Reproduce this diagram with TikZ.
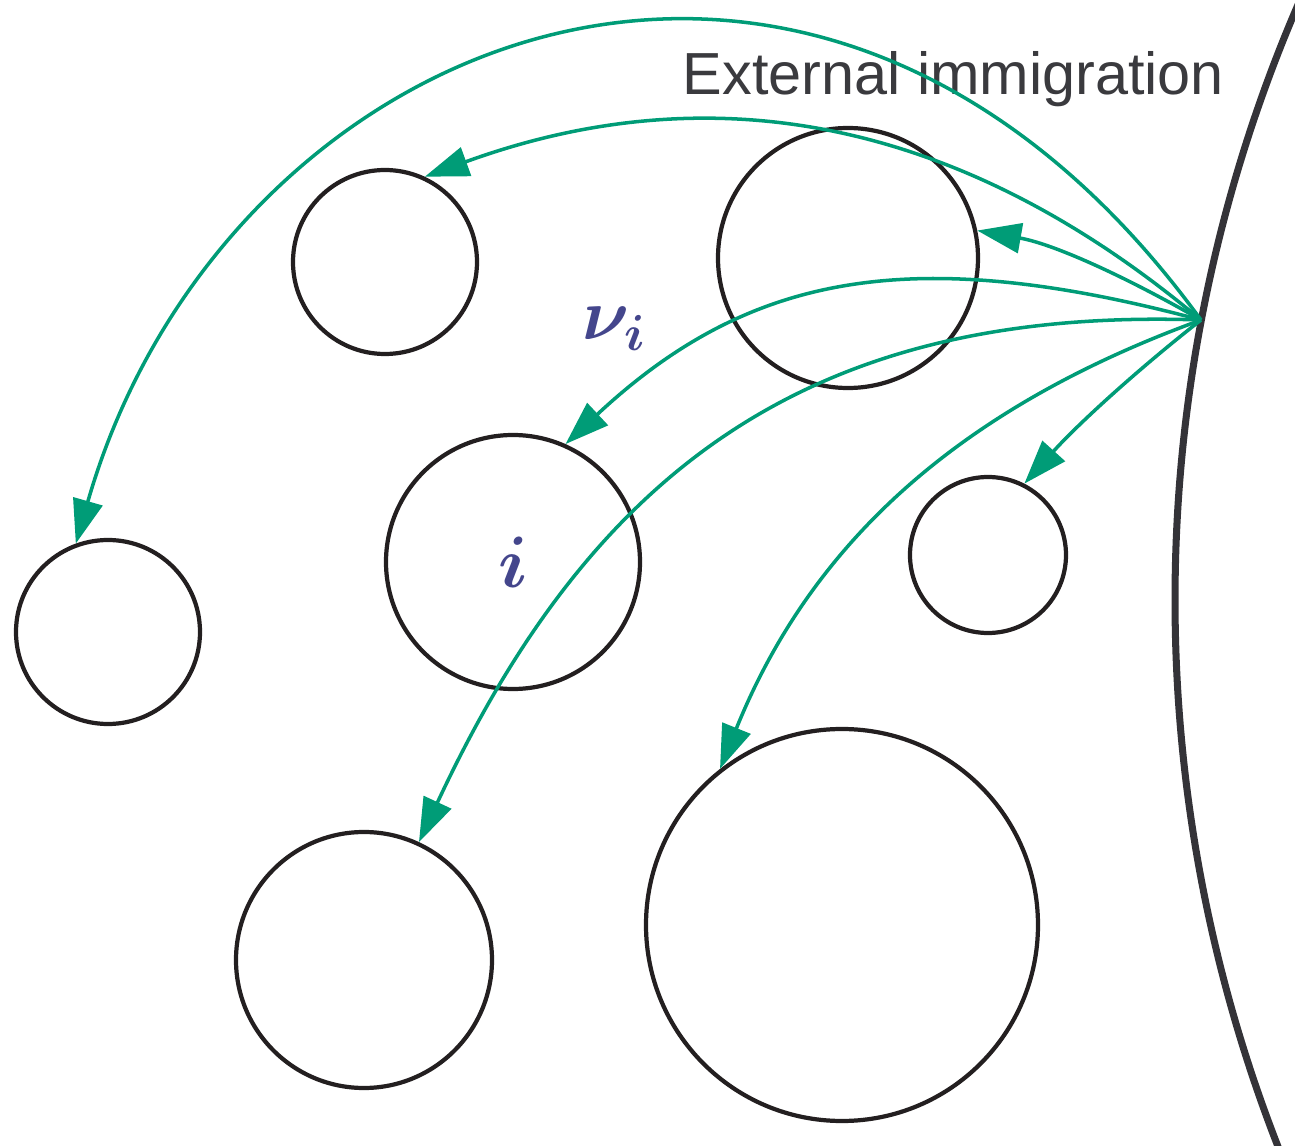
\documentclass[tikz,border=0pt]{standalone}
\usepackage{fontspec}
\setsansfont{Liberation Sans}
\usetikzlibrary{arrows.meta}
\definecolor{flowgreen}{RGB}{0,156,119}
\definecolor{ringblack}{RGB}{35,31,32}
\definecolor{rimgrey}{RGB}{52,51,56}
\definecolor{textgrey}{RGB}{58,58,62}
\definecolor{labelblue}{RGB}{68,70,140}

\begin{document}
\begin{tikzpicture}[
  patch/.style={circle, draw=ringblack, line width=1.2pt, inner sep=0pt, text=labelblue, font=\fontsize{20}{24}\selectfont\boldmath},
  flow/.style={draw=flowgreen, line width=1pt, -{Triangle[length=0.44cm, width=0.3cm]}},
  mathlabel/.style={text=labelblue, font=\fontsize{20}{24}\selectfont\boldmath},
]
\useasboundingbox (0,0) rectangle (12.95,11.45);
\begin{scope}
  \clip (0,0) rectangle (12.95,11.45);
  \draw[rimgrey, line width=2pt] (26.77,5.45) ++(156:15.02) arc[start angle=156, end angle=203, radius=15.02];
\end{scope}
\coordinate (src) at (12.01,8.25);

\node[patch, minimum size=1.84cm] (nw) at (3.85,8.83) {};
\node[patch, minimum size=2.6cm] (north) at (8.48,8.87) {};
\node[patch, minimum size=2.54cm] (home) at (5.13,5.83) {$i$};
\node[patch, minimum size=1.84cm] (west) at (1.08,5.13) {};
\node[patch, minimum size=1.56cm] (east) at (9.88,5.90) {};
\node[patch, minimum size=2.56cm] (sw) at (3.64,1.85) {};
\node[patch, minimum size=3.92cm] (south) at (8.42,2.20) {};

\node[text=textgrey, font=\sffamily\fontsize{16.9}{20}\selectfont, anchor=base west, inner sep=0pt] (title) at (6.82,10.50) {External immigration};
\node[mathlabel] (rate) at (6.15,8.16) {$\nu_i$};

\draw[flow] (src) .. controls +(126:6.6) and +(74:5.3) .. (west.110);
\draw[flow] (src) .. controls +(140:3.2) and +(20:3) .. (nw.65);
\draw[flow] (src) .. controls +(150:0.8) and +(-10:0.8) .. (north.12);
\draw[flow] (src) .. controls +(165:3) and +(43:2.5) .. (home.66);
\draw[flow] (src) .. controls +(178:4) and +(65:4) .. (sw.65);
\draw[flow] (src) .. controls +(200:2.5) and +(68:2.5) .. (south.128);
\draw[flow] (src) .. controls +(218:0.8) and +(48:0.8) .. (east.63);
\end{tikzpicture}
\end{document}
